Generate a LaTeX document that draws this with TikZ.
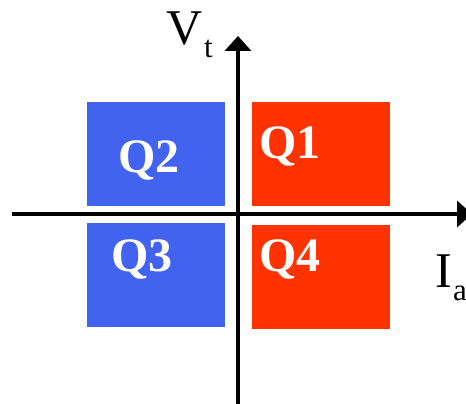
\documentclass[tikz,border=0pt]{standalone}
\usepackage{fontspec}
\setmainfont{Liberation Serif}
\usetikzlibrary{arrows.meta}
\definecolor{qblue}{RGB}{66,99,240}
\definecolor{qred}{RGB}{255,51,0}
\begin{document}
\begin{tikzpicture}[x=1pt,y=-1pt,
  box/.style={draw=none,inner sep=0pt,minimum width=138pt,minimum height=104pt,anchor=north west},
  qlab/.style={text=white,font=\fontsize{48}{48}\selectfont\bfseries,inner sep=0pt,anchor=base west},
  axlab/.style={text=black,font=\fontsize{50}{50}\selectfont,inner sep=0pt,anchor=base west},
  sublab/.style={text=black,font=\fontsize{31}{31}\selectfont,inner sep=0pt,anchor=base west},
  axis/.style={line width=4pt,-{Triangle[width=26pt,length=15pt]}}]
\useasboundingbox (0,0) rectangle (466,404);
\node[box,fill=qblue] (q2) at (87,102) {};
\node[box,fill=qred] (q1) at (252,102) {};
\node[box,fill=qblue] (q3) at (87,223) {};
\node[box,fill=qred] (q4) at (252,225) {};
\node[qlab] (t1) at (259,158) {Q1};
\node[qlab] (t2) at (118,172) {Q2};
\node[qlab] (t3) at (111,271) {Q3};
\node[qlab] (t4) at (259,271) {Q4};
\coordinate (xl) at (12,214);
\coordinate (xr) at (472,214);
\coordinate (yb) at (238,410);
\coordinate (yt) at (238,36);
\draw[axis] (xl) -- (xr);
\draw[axis] (yb) -- (yt);
\node[axlab] (v) at (166,45) {V};
\node[sublab] (vt) at (204,58) {t};
\node[axlab] (i) at (435,287) {I};
\node[sublab] (ia) at (453,300) {a};
\end{tikzpicture}
\end{document}
